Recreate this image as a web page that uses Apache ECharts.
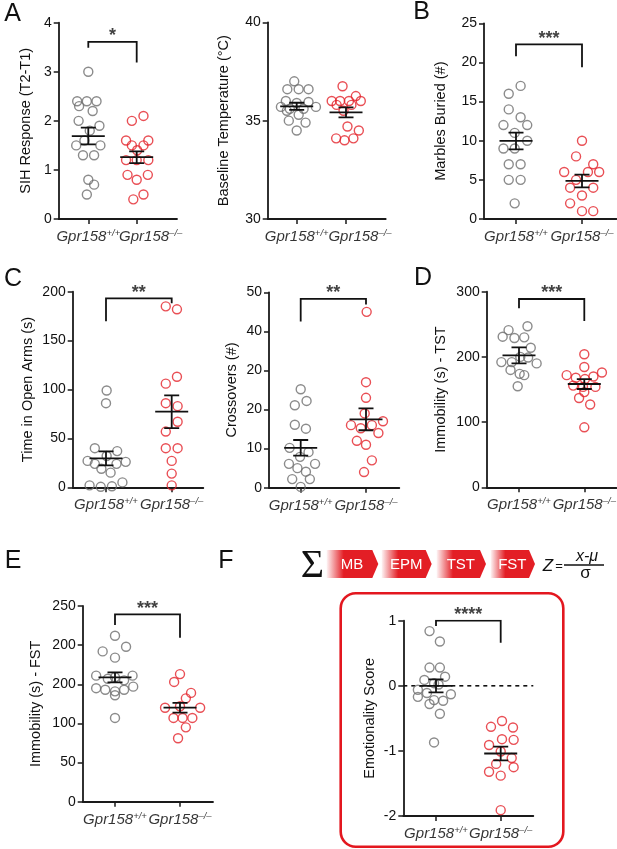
<!DOCTYPE html>
<html><head><meta charset="utf-8">
<script src="https://cdn.jsdelivr.net/npm/echarts@6/dist/echarts.min.js"></script>
<style>html,body{margin:0;padding:0;background:#fff}#c{width:617px;height:849px}</style>
</head><body><div id="c"></div>
<script>
// ---------- data ----------
const geneName = 'Gpr158';
const genotypes = ['+/+', '\u2013/\u2013'];

// A (left): SIH response
const sihTicks = ['0','1','2','3','4'];
const sihWT = [3.0,2.4,2.4,2.4,2.3,2.2,2.0,1.9,1.8,1.6,1.5,1.5,1.3,1.3,0.8,0.7,0.5];
const sihWTJit = [0,-0.23,-0.03,0.17,-0.19,0.09,-0.2,0.23,0.03,-0.08,-0.25,0.25,-0.11,0.12,0,0.12,-0.03];
const sihKO = [2.1,2.0,1.6,1.6,1.5,1.5,1.4,1.2,1.2,1.2,0.9,0.9,0.8,0.5,0.4];
const sihKOJit = [0.14,-0.1,-0.22,0.24,-0.1,0.14,0.01,-0.22,0,0.24,-0.19,0.23,0,0.14,-0.07];
const sihMean = [1.69, 1.26];
const sihSem = [0.17, 0.12];
const sihBracket = [3.61, 3.49, 3.19];

// A (right): baseline temperature
const tempTicks = ['30','35','40'];
const tempWT = [37.0,36.6,36.6,36.6,36.0,35.95,35.9,35.7,35.7,35.6,35.6,35.5,35.3,35.0,34.9,34.5];
const tempWTJit = [-0.05,-0.19,0.04,0.24,-0.22,0.24,0,-0.32,0.39,-0.14,0.14,-0.2,0.04,-0.16,0.18,0];
const tempKO = [36.75,36.25,36.0,36.0,36.0,36.0,35.8,35.8,35.5,34.7,34.5,34.1,34.0,34.1];
const tempKOJit = [-0.07,0.2,-0.29,-0.12,0.06,0.3,-0.19,0.11,-0.05,0.03,0.26,-0.2,-0.03,0.15];
const tempMean = [35.73, 35.42];
const tempSem = [0.18, 0.25];

// B: marbles buried
const mbTicks = ['0','5','10','15','20','25'];
const mbWT = [17,16,14,13,12,12,11,10,9,9,7,7,5,5,2];
const mbWTJit = [0.07,-0.11,-0.11,0.07,-0.19,0.17,-0.02,0.17,-0.19,-0.02,-0.11,0.07,-0.11,0.07,-0.02];
const mbKO = [10,8,7,6,6,6,5,4,4,3,2,1,1];
const mbKOJit = [0,-0.09,0.17,-0.27,0.09,0.26,-0.09,-0.18,0.17,0,-0.18,0,0.17];
const mbMean = [9.97, 4.86];
const mbSem = [1.07, 0.81];
const mbBracket = [22.3, 20.8, 19.4];

// C (left): time in open arms
const oaTicks = ['0','50','100','150','200'];
const oaWT = [99,86,40,37,32,27,26,24,24,19,15,5,2,0.5,1];
const oaWTJit = [0.01,0,-0.17,0.17,0.01,-0.28,0.3,-0.17,0.16,-0.07,0.07,0.25,-0.25,-0.08,0.09];
const oaKO = [185,182,113,106,86,83,67,57,40,40,27,14,2];
const oaKOJit = [-0.09,0.08,0.08,-0.09,-0.09,0.09,0.09,-0.09,-0.09,0.09,0,0,0];
const oaMean = [29.6, 77.3];
const oaSem = [7.2, 16.7];
const oaBracket = [193.2, 169.7, 188.1];

// C (right): crossovers (tick labels as printed)
const coTicks = ['0','10','20','20','40','50'];
const coWT = [25.2,22.2,21.1,16.1,15.1,10.2,9.1,7.9,6.1,6.1,5.0,4.1,2.2,2.2,0.2];
const coWTJit = [0,0.09,-0.09,-0.09,0.08,-0.17,0.12,-0.01,-0.18,0.22,-0.05,0.08,-0.13,0.14,0];
const coKO = [45,27,23,19,16,15.2,16,17,14,12,11,7,4];
const coKOJit = [0.01,0,0,-0.02,-0.23,-0.08,0.09,0.26,0.19,-0.14,0,0.09,-0.03];
const coMean = [10.2, 17.5];
const coSem = [2.0, 2.8];
const coBracket = [48.3, 42.5, 46.9];

// D: immobility TST
const tstTicks = ['0','100','200','300'];
const tstWT = [247,241,231,229,230,214,200,199,192,192,190,180,174,172,155];
const tstWTJit = [0.13,-0.16,-0.25,-0.07,0.08,0.18,0.02,0.14,-0.27,-0.11,0.27,-0.13,0.01,0.08,-0.02];
const tstKO = [204,184.5,176,172,168,166,170,156,154,154,146,137,127,92];
const tstKOJit = [0,0,0.27,-0.27,-0.13,0.01,0.14,-0.17,-0.02,0.17,0,-0.08,0.09,0];
const tstMean = [202.4, 158.4];
const tstSem = [12.3, 7.6];
const tstBracket = [288.8, 274.5, 255.0];

// E: immobility FST (tick labels as printed)
const fstTicks = ['0','50','100','200','200','250'];
const fstWT = [212,198,192,184,161,161,159,157,155,145,147,143,141,143,136,107];
const fstWTJit = [0,0.17,-0.19,0,-0.29,0.27,0,-0.11,0.14,-0.29,0.28,-0.15,0,0.14,0,0];
const fstKO = [163,153,139,132,120,122,120,107,107,107,95,81];
const fstKOJit = [0,-0.09,0.17,0.09,-0.23,0,0.31,-0.1,0.04,0.19,0.09,-0.03];
const fstMean = [158.9, 120.1];
const fstSem = [6.4, 6.2];
const fstBracket = [239.4, 225.7, 209.5];

// F: emotionality score
const emoTicks = ['-2','-1','0','1'];
const emoWT = [0.84,0.68,0.28,0.28,0.14,0.09,0.04,0.02,-0.06,-0.11,-0.13,-0.17,-0.22,-0.23,-0.28,-0.43,-0.87];
const emoWTJit = [-0.1,0.06,-0.1,0.06,0.14,-0.18,-0.03,0.04,-0.28,-0.14,0.23,-0.28,-0.03,0.11,-0.1,0.06,-0.03];
const emoKO = [-0.54,-0.63,-0.64,-0.82,-0.83,-0.91,-1.01,-1.11,-1.2,-1.25,-1.32,-1.38,-1.91];
const emoKOJit = [0.02,-0.15,0.19,0.02,0.2,-0.18,0,0.17,-0.07,0.2,-0.18,0,0];
const emoMean = [0.0, -1.04];
const emoSem = [0.10, 0.105];
const emoBracket = [1.0, 0.92, 0.66];

const scoreSteps = ['MB','EPM','TST','FST'];

// ---------- layout / style ----------
const FONT = '"Liberation Sans", Arial, Helvetica, sans-serif';
const AX = '#1a1a1a';
const GRAY = '#6e6e6e';
const RED = '#e3232b';

const panels = [
  {L:58.7, R:177, T:22.7, B:219, c1:88.3, c2:136.7, yMin:0, yMax:4, yInt:1, ticks:sihTicks, name:'SIH Response (T2-T1)', gap:25, koShift:14,
   wt:sihWT, wtJ:sihWTJit, ko:sihKO, koJ:sihKOJit, mean:sihMean, sem:sihSem, bracket:sihBracket, stars:'*'},
  {L:267.7, R:385.7, T:22.3, B:219, c1:296.7, c2:346, yMin:30, yMax:40, yInt:5, ticks:tempTicks, name:'Baseline Temperature (\u00B0C)', gap:36, koShift:14,
   wt:tempWT, wtJ:tempWTJit, ko:tempKO, koJ:tempKOJit, mean:tempMean, sem:tempSem},
  {L:484, R:616.7, T:23.3, B:219, c1:516, c2:582, yMin:0, yMax:25, yInt:5, ticks:mbTicks, name:'Marbles Buried (#)', gap:36, koShift:0,
   wt:mbWT, wtJ:mbWTJit, ko:mbKO, koJ:mbKOJit, mean:mbMean, sem:mbSem, bracket:mbBracket, stars:'***'},
  {L:72.7, R:203.3, T:291.7, B:487.3, c1:106, c2:171.7, yMin:0, yMax:200, yInt:50, ticks:oaTicks, name:'Time in Open Arms (s)', gap:37, koShift:0,
   wt:oaWT, wtJ:oaWTJit, ko:oaKO, koJ:oaKOJit, mean:oaMean, sem:oaSem, bracket:oaBracket, stars:'**'},
  {L:269, R:399.3, T:292.3, B:487.7, c1:300.7, c2:366, yMin:0, yMax:50, yInt:10, ticks:coTicks, name:'Crossovers (#)', gap:30, koShift:0,
   wt:coWT, wtJ:coWTJit, ko:coKO, koJ:coKOJit, mean:coMean, sem:coSem, bracket:coBracket, stars:'**'},
  {L:486.7, R:616.7, T:291.7, B:487.3, c1:519, c2:584.3, yMin:0, yMax:300, yInt:100, ticks:tstTicks, name:'Immobility (s) - TST', gap:38, koShift:0,
   wt:tstWT, wtJ:tstWTJit, ko:tstKO, koJ:tstKOJit, mean:tstMean, sem:tstSem, bracket:tstBracket, stars:'***'},
  {L:82.7, R:213, T:606, B:801.7, c1:115, c2:180, yMin:0, yMax:250, yInt:50, ticks:fstTicks, name:'Immobility (s) - FST', gap:39, koShift:0,
   wt:fstWT, wtJ:fstWTJit, ko:fstKO, koJ:fstKOJit, mean:fstMean, sem:fstSem, bracket:fstBracket, stars:'***'},
  {L:403.3, R:533.3, T:620.7, B:816, c1:436, c2:500.7, yMin:-2, yMax:1, yInt:1, ticks:emoTicks, name:'Emotionality Score', gap:26, koShift:0,
   wt:emoWT, wtJ:emoWTJit, ko:emoKO, koJ:emoKOJit, mean:emoMean, sem:emoSem, bracket:emoBracket, stars:'****', zeroLine:true}
];

const xRich = {
  m:{fontFamily:FONT, fontSize:15, fontStyle:'italic', color:'#000', lineHeight:17},
  s:{fontFamily:FONT, fontSize:9.5, fontStyle:'italic', color:'#000', verticalAlign:'top', lineHeight:10}
};

const grid = [], xAxis = [], yAxis = [], series = [];
panels.forEach((p, i) => {
  const u = p.c2 - p.c1;
  const xMin = 1 - (p.c1 - p.L) / u, xMax = 2 + (p.R - p.c2) / u;
  grid.push({left:p.L, top:p.T, width:p.R - p.L, height:p.B - p.T});
  xAxis.push({
    gridIndex:i, type:'value', min:xMin, max:xMax, splitLine:{show:false},
    axisLine:{show:true, onZero:false, lineStyle:{color:AX, width:1.8}},
    axisTick:{show:true, customValues:[1,2], length:5, lineStyle:{color:AX, width:1.5}},
    axisLabel:{show:false}
  });
  yAxis.push({
    gridIndex:i, type:'value', min:p.yMin, max:p.yMax, interval:p.yInt, splitLine:{show:false},
    axisLine:{show:true, onZero:false, lineStyle:{color:AX, width:1.8}},
    axisTick:{show:true, length:5, lineStyle:{color:AX, width:1.5}},
    axisLabel:{fontFamily:FONT, fontSize:14, color:'#111', margin:7, showMinLabel:true, showMaxLabel:true,
      formatter: v => p.ticks[Math.round((v - p.yMin) / p.yInt)]},
    name:p.name, nameLocation:'middle', nameGap:p.gap,
    nameTextStyle:{fontFamily:FONT, fontSize:14.5, color:'#111'}
  });
  // genotype labels under the x axis (anchor of the second label nudged as in the figure)
  series.push({
    type:'scatter', xAxisIndex:i, yAxisIndex:i, silent:true, z:4, symbolSize:1,
    itemStyle:{color:'rgba(0,0,0,0)'},
    data: genotypes.map((g, k) => [k + 1 + (k === 1 ? p.koShift / u : 0), p.yMin]),
    label:{show:true, position:'bottom', distance:9, color:'#000',
      formatter: d => '{m|' + geneName + '}{s|' + genotypes[d.dataIndex] + '}', rich:xRich},
    labelLayout:{hideOverlap:false}
  });
  const circle = (vals, jit, base, color) => ({
    type:'scatter', xAxisIndex:i, yAxisIndex:i, silent:true, z:2,
    data: vals.map((v, k) => [base + jit[k], v]),
    symbol:'circle', symbolSize:9,
    itemStyle:{color:'rgba(255,255,255,0)', borderColor:color, borderWidth:1.4}
  });
  series.push(circle(p.wt, p.wtJ, 1, GRAY));
  series.push(circle(p.ko, p.koJ, 2, RED));
  const mh = 16.5 / u, ch = 7.5 / u;
  const segs = [];
  [0,1].forEach(g => {
    const x = g + 1, m = p.mean[g], s = p.sem[g];
    segs.push({coords:[[x - mh, m], [x + mh, m]]});
    segs.push({coords:[[x, m - s], [x, m + s]]});
    segs.push({coords:[[x - ch, m + s], [x + ch, m + s]]});
    segs.push({coords:[[x - ch, m - s], [x + ch, m - s]]});
  });
  if (p.bracket) {
    const b = p.bracket;
    segs.push({coords:[[1, b[1]], [1, b[0]], [2, b[0]], [2, b[2]]]});
  }
  series.push({
    type:'lines', coordinateSystem:'cartesian2d', xAxisIndex:i, yAxisIndex:i, polyline:true, silent:true, z:3,
    data:segs, lineStyle:{color:'#111', width:1.8, opacity:1}
  });
  if (p.zeroLine) {
    series.push({
      type:'lines', coordinateSystem:'cartesian2d', xAxisIndex:i, yAxisIndex:i, polyline:true, silent:true, z:1,
      data:[{coords:[[xMin, 0], [xMax, 0]]}],
      lineStyle:{color:'#111', width:1.6, type:[4,4], opacity:1}
    });
  }
  if (p.bracket) {
    series.push({
      type:'scatter', xAxisIndex:i, yAxisIndex:i, silent:true, z:4,
      data:[[1.5, p.bracket[0]]], symbolSize:1, itemStyle:{color:'rgba(0,0,0,0)'},
      label:{show:true, position:'top', distance:-4, formatter:p.stars, fontFamily:FONT, fontSize:18, fontWeight:'bold', color:'#111'}
    });
  }
});

// ---------- graphics: panel letters, F header, red box ----------
const letters = [['A',12.5,14],['B',421.5,12],['C',13,279],['D',423,278],['E',13,561],['F',226,561]];
const graphic = letters.map(([t,x,y]) => ({
  type:'text', x, y, style:{text:t, font:'25px ' + FONT, fill:'#111', align:'center', verticalAlign:'middle'}
}));

const tagX = [[326.7,378.3],[381.7,431.7],[436.7,486],[490.7,535]];
scoreSteps.forEach((s, k) => {
  const [x0, x1] = tagX[k], y0 = 550, y1 = 578, tip = 6;
  graphic.push({
    type:'polygon', shape:{points:[[x0,y0],[x1-tip,y0],[x1,(y0+y1)/2],[x1-tip,y1],[x0,y1]]},
    style:{fill:{type:'linear', x:0, y:0, x2:1, y2:0, colorStops:[
      {offset:0, color:'rgba(227,30,37,0.05)'},{offset:0.33, color:'#e31e25'},{offset:1, color:'#e31e25'}]}}
  });
  graphic.push({type:'text', x:(x0+x1)/2 - 0.5, y:(y0+y1)/2 + 1,
    style:{text:s, font:'15px ' + FONT, fill:'#fff', align:'center', verticalAlign:'middle'}});
});
graphic.push({type:'text', x:312.5, y:566, style:{text:'\u03A3', font:'40px "Liberation Serif", "DejaVu Serif", serif', fill:'#111', align:'center', verticalAlign:'middle'}});
graphic.push({type:'text', x:548, y:566, style:{text:'Z', font:'italic 17px ' + FONT, fill:'#111', align:'center', verticalAlign:'middle'}});
graphic.push({type:'text', x:559, y:566, style:{text:'=', font:'13px ' + FONT, fill:'#111', align:'center', verticalAlign:'middle'}});
graphic.push({type:'text', x:587, y:556.5, style:{text:'x-\u03BC', font:'italic 16px ' + FONT, fill:'#111', align:'center', verticalAlign:'middle'}});
graphic.push({type:'line', shape:{x1:564, y1:565, x2:604, y2:565}, style:{stroke:'#111', lineWidth:1.3}});
graphic.push({type:'text', x:585.5, y:573.5, style:{text:'\u03C3', font:'17px ' + FONT, fill:'#111', align:'center', verticalAlign:'middle'}});
graphic.push({type:'rect', shape:{x:340.7, y:593.3, width:222.6, height:253.4, r:15},
  style:{fill:'none', stroke:'#e3171f', lineWidth:2.6}});

const chart = echarts.init(document.getElementById('c'), null, {renderer:'canvas'});
chart.setOption({animation:false, backgroundColor:'#fff', grid, xAxis, yAxis, series, graphic});
</script></body></html>
